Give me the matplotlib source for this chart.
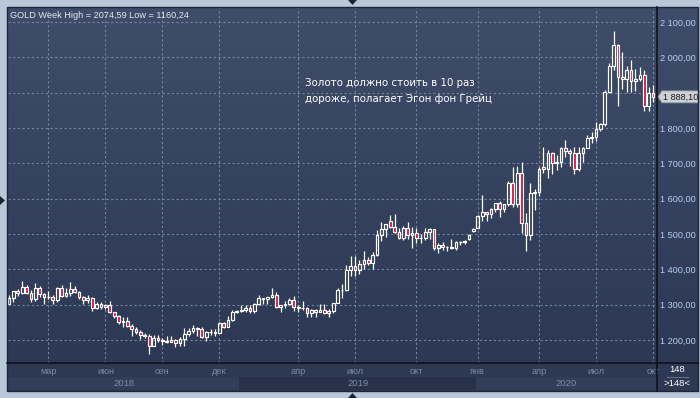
import numpy as np
import matplotlib
matplotlib.use("Agg")
import matplotlib.pyplot as plt
import matplotlib.transforms as mtransforms
from matplotlib.colors import LinearSegmentedColormap
from matplotlib.patches import Polygon, Rectangle

plt.rcParams['font.family'] = ['Liberation Sans', 'DejaVu Sans']

# weekly GOLD candles, Jan 2018 .. Oct 2020 (148 bars)
opens = [
    1302.5, 1320, 1338, 1332, 1349, 1333, 1315, 1347, 1329, 1322,
    1323, 1313, 1347, 1325, 1332, 1345, 1336, 1323, 1314, 1320,
    1291, 1302, 1294, 1298, 1278, 1269, 1252, 1255, 1241, 1231,
    1223, 1214, 1212, 1184, 1206, 1201, 1198, 1194, 1199, 1192,
    1203, 1218, 1226, 1233, 1231, 1209, 1222, 1223, 1221, 1248,
    1238, 1256, 1280, 1282, 1285, 1290, 1282, 1303, 1318, 1315,
    1322, 1328, 1294, 1298, 1302, 1313, 1292, 1291, 1290, 1275,
    1286, 1279, 1286, 1277, 1283, 1305, 1341, 1341, 1399, 1409,
    1399, 1415, 1426, 1419, 1440, 1497, 1513, 1537, 1520, 1506,
    1488, 1516, 1497, 1504, 1488, 1490, 1505, 1514, 1459, 1468,
    1462, 1463, 1460, 1476, 1477, 1486, 1508, 1517, 1552, 1562,
    1557, 1571, 1589, 1570, 1584, 1643, 1585, 1674, 1530, 1498,
    1617, 1620, 1690, 1683, 1728, 1700, 1703, 1743, 1734, 1730,
    1684, 1730, 1743, 1771, 1775, 1798, 1810, 1902, 1975, 2035,
    1944, 1940, 1964, 1934, 1940, 1950, 1861, 1900,
]
highs = [
    1326, 1340, 1344, 1366, 1356, 1341, 1361, 1352, 1333, 1340,
    1326, 1350, 1356, 1348, 1365, 1353, 1338, 1325, 1326, 1321,
    1307, 1308, 1303, 1309, 1280, 1272, 1264, 1265, 1245, 1236,
    1229, 1220, 1216, 1214, 1214, 1206, 1212, 1211, 1204, 1208,
    1233, 1234, 1243, 1238, 1237, 1225, 1230, 1230, 1250, 1251,
    1267, 1285, 1284, 1299, 1298, 1299, 1304, 1326, 1320, 1323,
    1346, 1335, 1299, 1311, 1320, 1325, 1298, 1310, 1294, 1288,
    1289, 1303, 1303, 1287, 1306, 1347, 1358, 1411, 1439, 1438,
    1426, 1453, 1434, 1450, 1510, 1535, 1527, 1555, 1557, 1516,
    1523, 1535, 1519, 1517, 1500, 1518, 1516, 1515, 1475, 1478,
    1466, 1485, 1480, 1481, 1484, 1499, 1518, 1553, 1611, 1563,
    1574, 1589, 1592, 1584, 1649, 1689, 1692, 1703, 1560, 1644,
    1626, 1690, 1747, 1739, 1732, 1723, 1745, 1765, 1740, 1745,
    1745, 1746, 1780, 1789, 1818, 1815, 1908, 1984, 2074.59, 2039,
    2015, 1976, 1992, 1966, 1973, 1963, 1917, 1921,
]
lows = [
    1302, 1307, 1325, 1330, 1330, 1307, 1310, 1321, 1303, 1316,
    1303, 1307, 1322, 1321, 1325, 1333, 1316, 1302, 1304, 1282,
    1289, 1289, 1289, 1275, 1261, 1245, 1238, 1236, 1211, 1218,
    1204, 1206, 1160.24, 1183, 1195, 1187, 1191, 1193, 1181, 1182,
    1183, 1211, 1221, 1212, 1205, 1196, 1215, 1211, 1221, 1235,
    1236, 1255, 1276, 1278, 1280, 1276, 1277, 1298, 1302, 1302,
    1319, 1291, 1280, 1290, 1298, 1281, 1280, 1285, 1266, 1266,
    1266, 1279, 1274, 1266, 1275, 1305, 1320, 1338, 1382, 1381,
    1386, 1401, 1412, 1400, 1437, 1480, 1492, 1516, 1503, 1485,
    1484, 1485, 1459, 1475, 1475, 1483, 1486, 1456, 1445, 1456,
    1452, 1458, 1455, 1469, 1472, 1484, 1505, 1516, 1536, 1536,
    1546, 1563, 1547, 1561, 1580, 1575, 1576, 1504, 1451, 1483,
    1567, 1607, 1672, 1659, 1670, 1681, 1690, 1717, 1693, 1671,
    1678, 1704, 1743, 1757, 1764, 1792, 1806, 1899, 1964, 1863,
    1911, 1902, 1903, 1906, 1933, 1849, 1848, 1873,
]
closes = [
    1320, 1338, 1332, 1349, 1333, 1315, 1347, 1329, 1322, 1323,
    1313, 1347, 1325, 1332, 1345, 1336, 1323, 1314, 1320, 1291,
    1302, 1294, 1298, 1278, 1269, 1252, 1255, 1241, 1231, 1223,
    1214, 1212, 1184, 1206, 1201, 1198, 1194, 1199, 1192, 1203,
    1218, 1226, 1233, 1231, 1209, 1222, 1223, 1221, 1248, 1238,
    1256, 1280, 1282, 1285, 1290, 1282, 1303, 1318, 1315, 1322,
    1328, 1294, 1298, 1302, 1313, 1292, 1291, 1290, 1275, 1286,
    1279, 1286, 1277, 1283, 1305, 1341, 1341, 1399, 1409, 1399,
    1415, 1426, 1419, 1440, 1497, 1513, 1527, 1520, 1506, 1488,
    1516, 1497, 1504, 1488, 1490, 1505, 1514, 1459, 1468, 1462,
    1463, 1460, 1476, 1478, 1481, 1498, 1515, 1550, 1562, 1557,
    1571, 1589, 1570, 1584, 1643, 1585, 1674, 1530, 1498, 1617,
    1620, 1683, 1683, 1728, 1700, 1703, 1743, 1734, 1730, 1684,
    1730, 1743, 1771, 1775, 1798, 1810, 1902, 1975, 2035, 1944,
    1940, 1964, 1934, 1940, 1950, 1861, 1900, 1888.10,
]

# bar index of first week of each labelled month
month_idx = [9, 22, 35, 48, 66, 79, 93, 107, 121, 134, 147]
month_lbl = ['мар', 'июн', 'сен', 'дек', 'апр', 'июл', 'окт', 'янв', 'апр', 'июл', 'окт']
year_start = [0, 53, 107]
year_lbl = ['2018', '2019', '2020']
price_ticks = [1200, 1300, 1400, 1500, 1600, 1700, 1800, 1900, 2000, 2100]

note = ['Золото должно стоить в 10 раз', 'дороже, полагает Эгон фон Грейц']


def fmt_price(v):
    return f"{v:,.2f}".replace(',', ' ').replace('.', ',')


W, H = 700, 398
fig = plt.figure(figsize=(W / 100, H / 100), dpi=100)
fig.patch.set_facecolor('#b9c8d9')


def frac(x0, y0, x1, y1):
    return [x0 / W, 1 - y1 / H, (x1 - x0) / W, (y1 - y0) / H]


# background panel (pixel coordinates)
bg = fig.add_axes([0, 0, 1, 1], zorder=0)
cmap = LinearSegmentedColormap.from_list('panel', ['#3f4d6b', '#2c3854'])
bg.imshow(np.linspace(0, 1, 256).reshape(-1, 1), cmap=cmap, extent=(7, 698, 363, 7),
          aspect='auto', origin='upper', interpolation='bilinear')
bg.add_patch(Rectangle((7, 363), 691, 28, fc='#2d3852', ec='none'))
bg.set_xlim(0, W)
bg.set_ylim(H, 0)
bg.axis('off')

# main candle axes
ax = fig.add_axes(frac(8, 8, 657, 363), zorder=1)
ax.set_facecolor('none')
for s in ax.spines.values():
    s.set_visible(False)

x = np.arange(len(closes))
o = np.array(opens)
h = np.array(highs)
l = np.array(lows)
c = np.array(closes)
up = c >= o
lo = np.minimum(o, c)
hi = np.maximum(o, c)

ax.vlines(x, l, lo, color='white', lw=0.9, zorder=3)
ax.vlines(x, hi, h, color='white', lw=0.9, zorder=3)
ax.bar(x[up], (hi - lo)[up], bottom=lo[up], width=0.62, facecolor='none',
       edgecolor='white', linewidth=0.85, zorder=4)
ax.bar(x[~up], (hi - lo)[~up], bottom=lo[~up], width=0.62, facecolor='#e0123e',
       edgecolor='white', linewidth=0.85, zorder=4)

px_per_bar = 4.381
xmin = -1 / px_per_bar
xmax = xmin + 649 / px_per_bar
ymin, ymax = 1134.9, 2139.6
ax.set_xlim(xmin, xmax)
ax.set_ylim(ymin, ymax)

# last price marker (hides the price label it sits on)
yl = closes[-1]
dy = 6 * (ymax - ymin) / 355
ax.set_xticks(month_idx)
ax.set_yticks(price_ticks)
ax.set_yticklabels(['' if abs(v - yl) < 2.2 * dy else fmt_price(v) for v in price_ticks])
ax.yaxis.tick_right()
ax.tick_params(axis='x', length=0, labelbottom=False)
ax.tick_params(axis='y', length=0, pad=2.2, labelsize=6.6, labelcolor='#b8cfee')
ax.set_axisbelow(True)
ax.grid(True, color='#7484a0', linestyle=(0, (2, 2.2)), linewidth=0.8)

trans = mtransforms.blended_transform_factory(ax.transAxes, ax.transData)
ax.add_patch(Polygon([(1 + 1 / 649, yl), (1 + 5 / 649, yl + dy), (1 + 42 / 649, yl + dy),
                      (1 + 42 / 649, yl - dy), (1 + 5 / 649, yl - dy)],
                     closed=True, transform=trans, clip_on=False, zorder=10,
                     fc='#cdd0d5', ec='#8d939b', lw=0.6))
ax.text(1 + 6 / 649, yl, fmt_price(yl), transform=trans, ha='left', va='center',
        fontsize=6.6, color='#1e1e1e', zorder=11, clip_on=False)

# date strip
dax = fig.add_axes(frac(8, 363, 657, 390), zorder=1, sharex=ax)
dax.set_facecolor('none')
dax.set_ylim(27, 0)
for s in dax.spines.values():
    s.set_visible(False)
dax.tick_params(left=False, bottom=False, labelleft=False, labelbottom=False)
bounds = [max(xmin, v - 0.4) for v in year_start] + [xmax]
band_cols = ['#323e58', '#27314a', '#323e58']
for i, lbl in enumerate(year_lbl):
    dax.axvspan(bounds[i], bounds[i + 1], ymin=0, ymax=13 / 27, color=band_cols[i], lw=0)
    dax.text((bounds[i] + bounds[i + 1]) / 2, 20.5, lbl, ha='center', va='center',
             fontsize=6.8, color='#7b8aa3')
for xi, lbl in zip(month_idx, month_lbl):
    dax.text(xi, 8.5, lbl, ha='center', va='center', fontsize=6.6, color='#7b8aa3')
dax.set_xlim(xmin, xmax)

# overlay: frame lines, texts, markers
top = fig.add_axes([0, 0, 1, 1], zorder=5)
top.set_xlim(0, W)
top.set_ylim(H, 0)
top.axis('off')
top.add_patch(Rectangle((7, 7), 691, 384, fc='none', ec='#1d2636', lw=1))
top.plot([657, 657], [7, 391], color='#0c0f16', lw=1.1)
top.plot([7, 698], [363, 363], color='#0c0f16', lw=1.1)

title = f"GOLD Week High = {max(highs):.2f} Low = {min(lows):.2f}".replace('.', ',')
top.text(10, 15, title, ha='left', va='center', fontsize=6.6, color='#e3e8f0')
top.text(305, 83.5, note[0], ha='left', va='center', fontsize=7.4, color='white',
         family='DejaVu Sans')
top.text(305, 98.5, note[1], ha='left', va='center', fontsize=7.4, color='white',
         family='DejaVu Sans')

top.text(677.5, 369.5, str(len(closes)), ha='center', va='center', fontsize=6.8, color='white')
top.plot([667, 688], [376.5, 376.5], color='#61708a', lw=0.8)
top.text(677.5, 384, f">{len(closes)}<", ha='center', va='center', fontsize=6.8, color='white')

tri = '#1c2535'
top.add_patch(Polygon([(348, 0), (357, 0), (352.5, 5)], closed=True, fc=tri, ec='none'))
top.add_patch(Polygon([(348, 398), (357, 398), (352.5, 393)], closed=True, fc=tri, ec='none'))
top.add_patch(Polygon([(0, 196), (0, 205), (5, 200.5)], closed=True, fc=tri, ec='none'))

fig.savefig('out.png', dpi=100, facecolor=fig.get_facecolor())
